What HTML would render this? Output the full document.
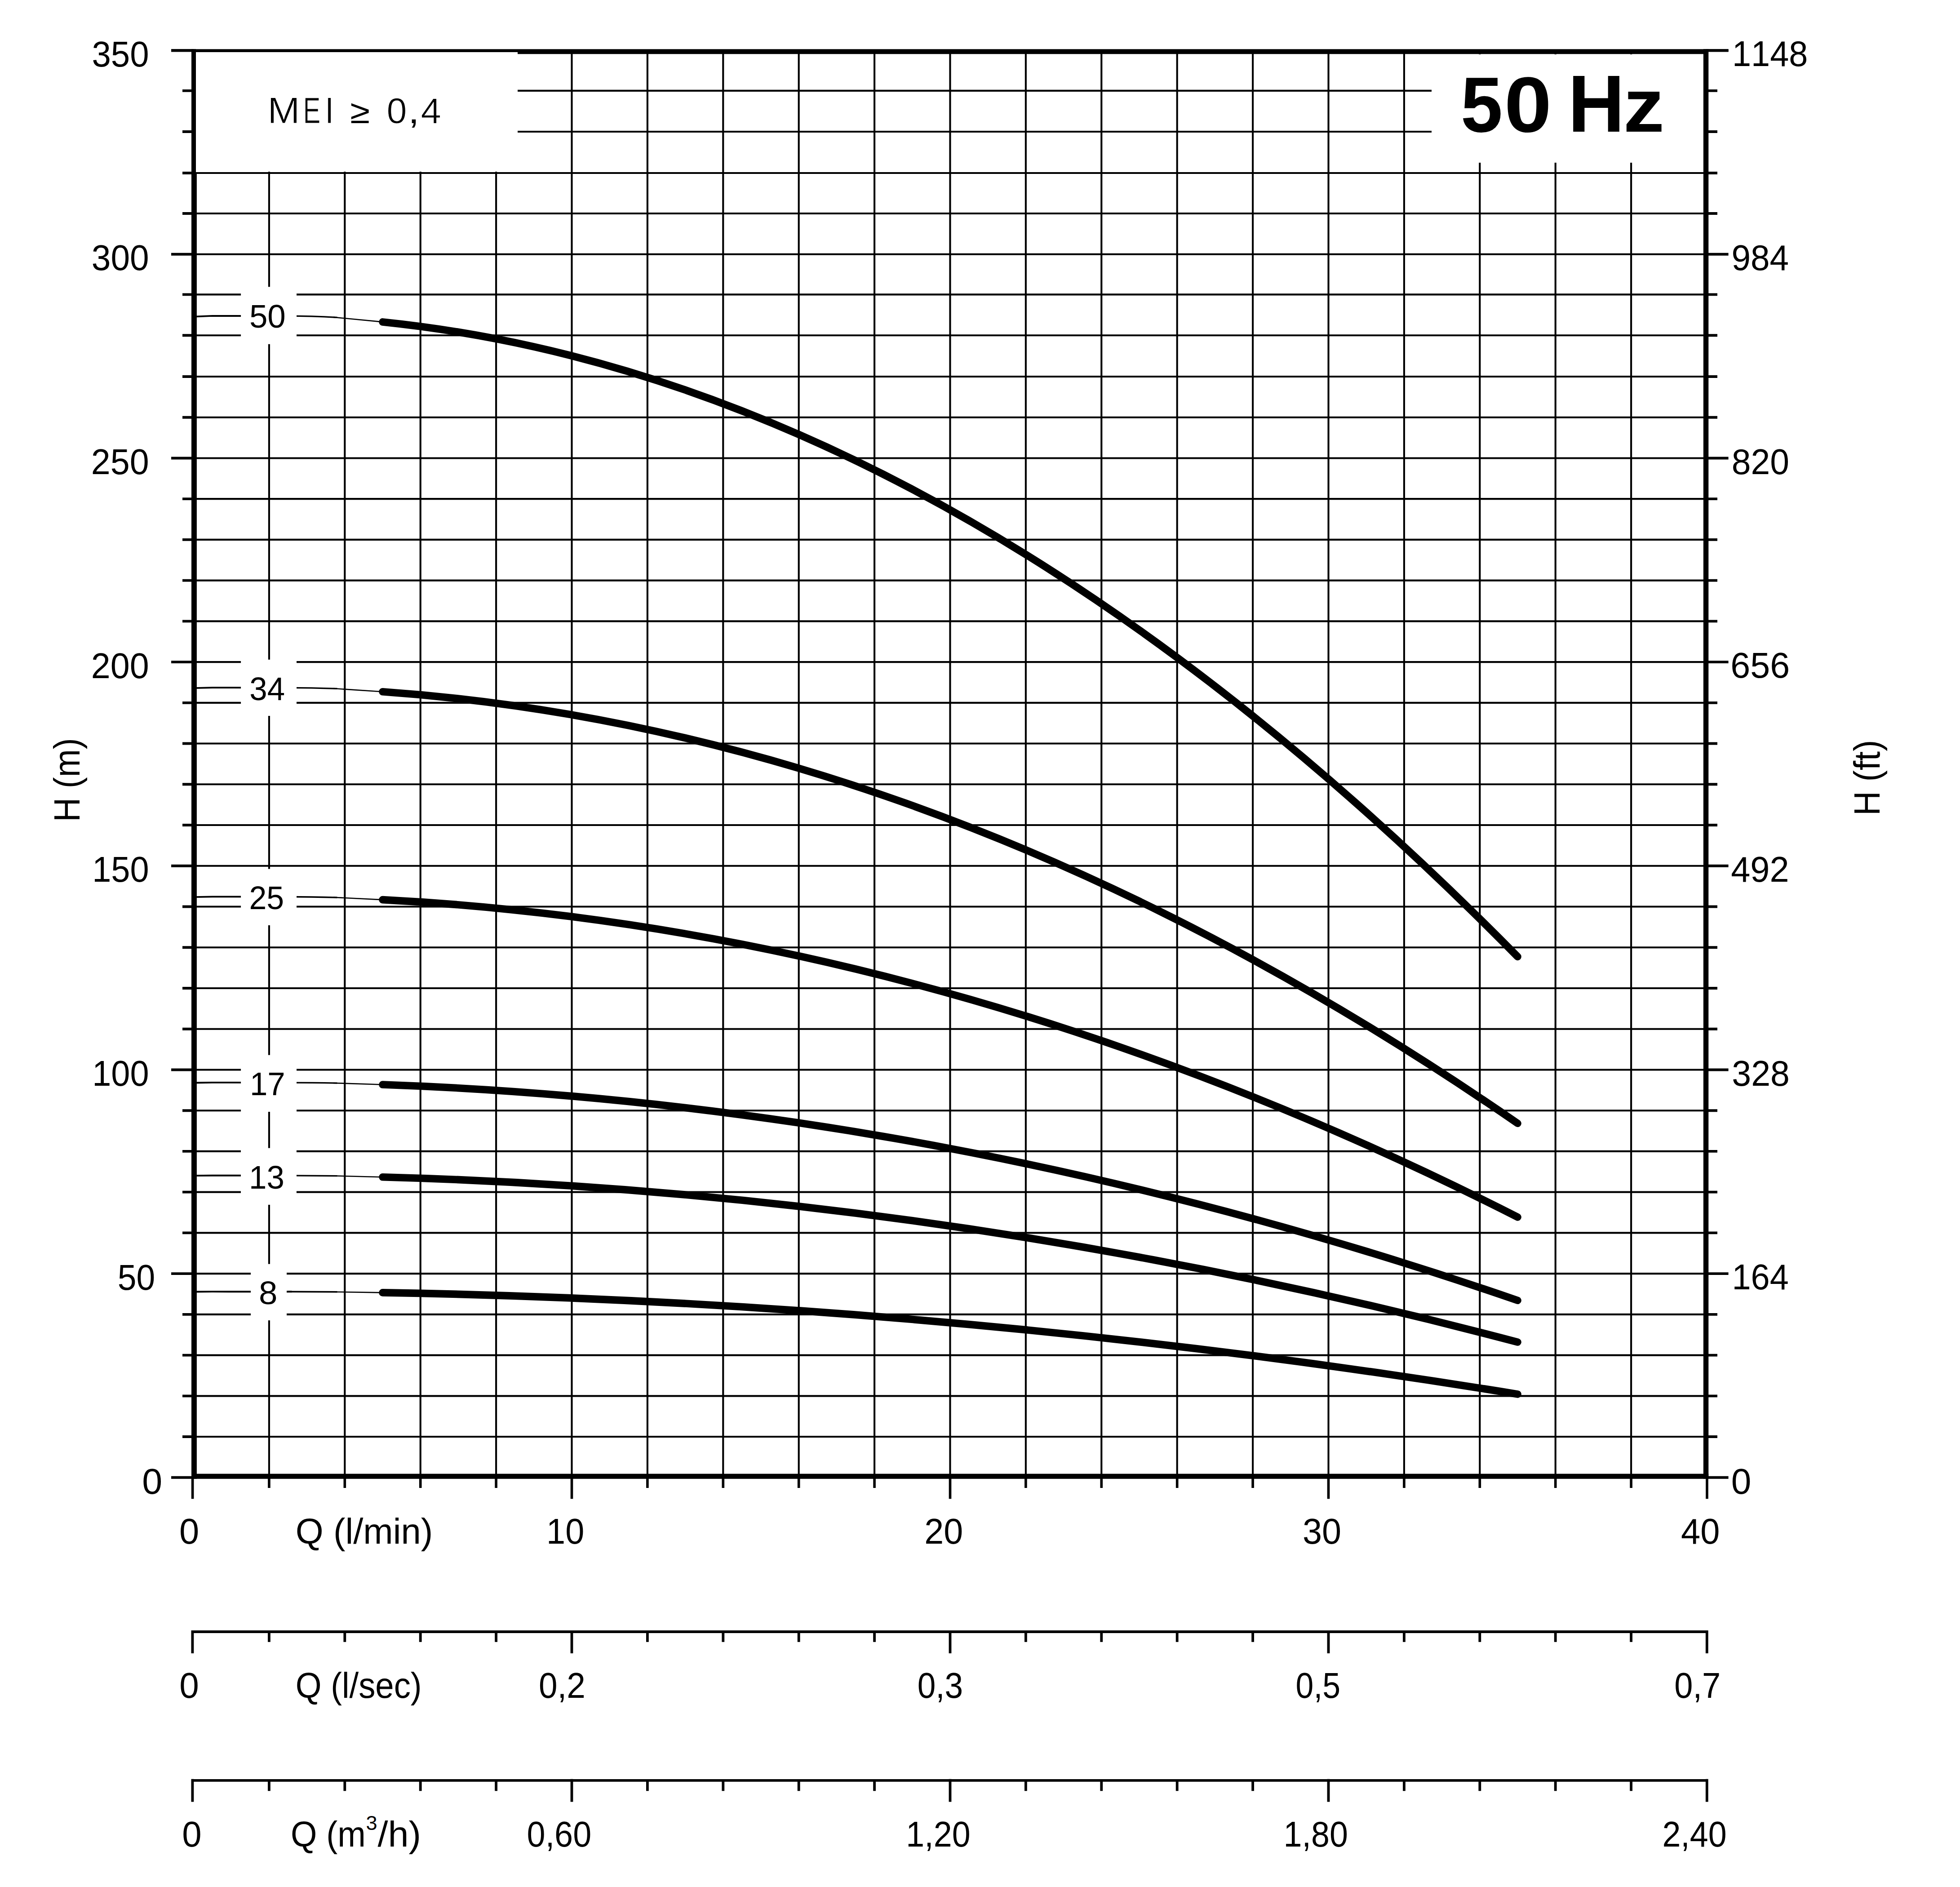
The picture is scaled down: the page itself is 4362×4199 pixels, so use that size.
<!DOCTYPE html>
<html lang="en"><head><meta charset="utf-8"><title>Pump performance curves 50 Hz</title>
<style>html,body{margin:0;padding:0;background:#fff}svg{display:block}text{font-family:"Liberation Sans",sans-serif;fill:#000;font-kerning:none}</style></head><body>
<svg width="4362" height="4199" viewBox="0 0 4362 4199">
<rect width="4362" height="4199" fill="#fff"/>
<path d="M431 3287.8H3796.6M431 3197.07H3796.6M431 3106.33H3796.6M431 3015.6H3796.6M431 2924.86H3796.6M431 2834.12H3796.6M431 2743.39H3796.6M431 2652.66H3796.6M431 2561.92H3796.6M431 2471.19H3796.6M431 2380.45H3796.6M431 2289.72H3796.6M431 2198.98H3796.6M431 2108.25H3796.6M431 2017.51H3796.6M431 1926.78H3796.6M431 1836.04H3796.6M431 1745.31H3796.6M431 1654.57H3796.6M431 1563.84H3796.6M431 1473.1H3796.6M431 1382.37H3796.6M431 1291.63H3796.6M431 1200.9H3796.6M431 1110.16H3796.6M431 1019.43H3796.6M431 928.69H3796.6M431 837.96H3796.6M431 746.2H3796.6M431 655.4H3796.6M431 565.75H3796.6M431 475.02H3796.6M431 385H3796.6M431 293H3796.6M431 201.9H3796.6M431 112.08H3796.6M430.5 112.08V3287.8M598.9 112.08V3287.8M767.3 112.08V3287.8M935.7 112.08V3287.8M1104.1 112.08V3287.8M1272.5 112.08V3287.8M1440.9 112.08V3287.8M1609.3 112.08V3287.8M1777.7 112.08V3287.8M1946.1 112.08V3287.8M2114.5 112.08V3287.8M2282.9 112.08V3287.8M2451.3 112.08V3287.8M2619.7 112.08V3287.8M2788.1 112.08V3287.8M2956.5 112.08V3287.8M3124.9 112.08V3287.8M3293.3 112.08V3287.8M3461.7 112.08V3287.8M3630.1 112.08V3287.8M3798.5 112.08V3287.8" stroke="#000" stroke-width="4.1" fill="none"/>
<path d="M431 115.0H3796.6" stroke="#000" stroke-width="10.4" fill="none"/>
<rect x="436" y="116" width="716" height="266" fill="#fff"/>
<rect x="3186" y="121" width="605" height="241" fill="#fff"/>
<path d="M431 704.57L472.6 702.94L649.42 703.21" stroke="#000" stroke-width="3.8" fill="none"/>
<path d="M641 703.21C683.1 703.21 716.78 704.57 750.46 706.39" stroke="#000" stroke-width="3.3" fill="none"/>
<path d="M742.04 705.84L851.5 716.37" stroke="#000" stroke-width="2.6" fill="none"/>
<path d="M431 1531.21L472.6 1530.1L649.42 1530.28" stroke="#000" stroke-width="3.8" fill="none"/>
<path d="M641 1530.28C683.1 1530.28 716.78 1531.21 750.46 1532.44" stroke="#000" stroke-width="3.3" fill="none"/>
<path d="M742.04 1532.07L851.5 1539.23" stroke="#000" stroke-width="2.6" fill="none"/>
<path d="M431 1996.19L472.6 1995.37L649.42 1995.51" stroke="#000" stroke-width="3.8" fill="none"/>
<path d="M641 1995.51C683.1 1995.51 716.78 1996.19 750.46 1997.09" stroke="#000" stroke-width="3.3" fill="none"/>
<path d="M742.04 1996.82L851.5 2002.09" stroke="#000" stroke-width="2.6" fill="none"/>
<path d="M431 2409.5L472.6 2408.95L649.42 2409.04" stroke="#000" stroke-width="3.8" fill="none"/>
<path d="M641 2409.04C683.1 2409.04 716.78 2409.5 750.46 2410.12" stroke="#000" stroke-width="3.3" fill="none"/>
<path d="M742.04 2409.94L851.5 2413.51" stroke="#000" stroke-width="2.6" fill="none"/>
<path d="M431 2616.16L472.6 2615.74L649.42 2615.81" stroke="#000" stroke-width="3.8" fill="none"/>
<path d="M641 2615.81C683.1 2615.81 716.78 2616.16 750.46 2616.63" stroke="#000" stroke-width="3.3" fill="none"/>
<path d="M742.04 2616.49L851.5 2619.23" stroke="#000" stroke-width="2.6" fill="none"/>
<path d="M431 2874.48L472.6 2874.22L649.42 2874.27" stroke="#000" stroke-width="3.8" fill="none"/>
<path d="M641 2874.27C683.1 2874.27 716.78 2874.48 750.46 2874.77" stroke="#000" stroke-width="3.3" fill="none"/>
<path d="M742.04 2874.69L851.5 2876.37" stroke="#000" stroke-width="2.6" fill="none"/>
<rect x="536.1" y="638.3" width="123.9" height="127.5" fill="#fff"/>
<rect x="536.1" y="1467.8" width="123.9" height="125.2" fill="#fff"/>
<rect x="536.1" y="1933.6" width="123.9" height="125.3" fill="#fff"/>
<rect x="536.1" y="2347.7" width="123.9" height="126.3" fill="#fff"/>
<rect x="536" y="2554.7" width="123.9" height="126.2" fill="#fff"/>
<rect x="558.1" y="2812.7" width="79.9" height="125.4" fill="#fff"/>
<rect x="426" y="109.28" width="10" height="274.72" fill="#000"/>
<rect x="426" y="383" width="11.9" height="2907.8" fill="#000"/>
<path d="M3796.6 109.28V3290.8" stroke="#000" stroke-width="11.4" fill="none"/>
<path d="M426 3285.2H3802.3" stroke="#000" stroke-width="11.2" fill="none"/>
<path d="M381 112.48H3846.6" stroke="#000" stroke-width="6.2" fill="none"/>
<path d="M381 3287.8H431M3796.6 3287.8H3846.6M406 3197.07H431M3796.6 3197.07H3822M406 3106.33H431M3796.6 3106.33H3822M406 3015.6H431M3796.6 3015.6H3822M406 2924.86H431M3796.6 2924.86H3822M381 2834.12H431M3796.6 2834.12H3846.6M406 2743.39H431M3796.6 2743.39H3822M406 2652.66H431M3796.6 2652.66H3822M406 2561.92H431M3796.6 2561.92H3822M406 2471.19H431M3796.6 2471.19H3822M381 2380.45H431M3796.6 2380.45H3846.6M406 2289.72H431M3796.6 2289.72H3822M406 2198.98H431M3796.6 2198.98H3822M406 2108.25H431M3796.6 2108.25H3822M406 2017.51H431M3796.6 2017.51H3822M381 1926.78H431M3796.6 1926.78H3846.6M406 1836.04H431M3796.6 1836.04H3822M406 1745.31H431M3796.6 1745.31H3822M406 1654.57H431M3796.6 1654.57H3822M406 1563.84H431M3796.6 1563.84H3822M381 1473.1H431M3796.6 1473.1H3846.6M406 1382.37H431M3796.6 1382.37H3822M406 1291.63H431M3796.6 1291.63H3822M406 1200.9H431M3796.6 1200.9H3822M406 1110.16H431M3796.6 1110.16H3822M381 1019.43H431M3796.6 1019.43H3846.6M406 928.69H431M3796.6 928.69H3822M406 837.96H431M3796.6 837.96H3822M406 746.2H431M3796.6 746.2H3822M406 655.4H431M3796.6 655.4H3822M381 565.75H431M3796.6 565.75H3846.6M406 475.02H431M3796.6 475.02H3822M406 385H431M3796.6 385H3822M406 293H431M3796.6 293H3822M406 201.9H431M3796.6 201.9H3822M381 112.08H431M3796.6 112.08H3846.6" stroke="#000" stroke-width="5.9" fill="none"/>
<path d="M428.6 3285V3335.3M598.9 3285V3311M767.3 3285V3311M935.7 3285V3311M1104.1 3285V3311M1272.5 3285V3335.3M1440.9 3285V3311M1609.3 3285V3311M1777.7 3285V3311M1946.1 3285V3311M2114.5 3285V3335.3M2282.9 3285V3311M2451.3 3285V3311M2619.7 3285V3311M2788.1 3285V3311M2956.5 3285V3335.3M3124.9 3285V3311M3293.3 3285V3311M3461.7 3285V3311M3630.1 3285V3311M3799 3285V3335.3" stroke="#000" stroke-width="5.6" fill="none"/>
<path d="M425.6 3631H3801.6M428.4 3628V3679M598.9 3631V3653.8M767.3 3631V3653.8M935.7 3631V3653.8M1104.1 3631V3653.8M1272.5 3628V3679M1440.9 3631V3653.8M1609.3 3631V3653.8M1777.7 3631V3653.8M1946.1 3631V3653.8M2114.5 3628V3679M2282.9 3631V3653.8M2451.3 3631V3653.8M2619.7 3631V3653.8M2788.1 3631V3653.8M2956.5 3628V3679M3124.9 3631V3653.8M3293.3 3631V3653.8M3461.7 3631V3653.8M3630.1 3631V3653.8M3798.8 3628V3679" stroke="#000" stroke-width="5.8" fill="none"/>
<path d="M425.6 3961.8H3801.6M428.4 3958.8V4009.4M598.9 3961.8V3985.2M767.3 3961.8V3985.2M935.7 3961.8V3985.2M1104.1 3961.8V3985.2M1272.5 3958.8V4009.4M1440.9 3961.8V3985.2M1609.3 3961.8V3985.2M1777.7 3961.8V3985.2M1946.1 3961.8V3985.2M2114.5 3958.8V4009.4M2282.9 3961.8V3985.2M2451.3 3961.8V3985.2M2619.7 3961.8V3985.2M2788.1 3961.8V3985.2M2956.5 3958.8V4009.4M3124.9 3961.8V3985.2M3293.3 3961.8V3985.2M3461.7 3961.8V3985.2M3630.1 3961.8V3985.2M3798.8 3958.8V4009.4" stroke="#000" stroke-width="5.8" fill="none"/>
<path d="M851.5 716.39Q2114.5 846.51 3377.5 2128.86" stroke="#000" stroke-width="16.6" stroke-linecap="round" fill="none"/>
<path d="M851.5 1539.24Q2114.5 1627.72 3377.5 2499.72" stroke="#000" stroke-width="16.6" stroke-linecap="round" fill="none"/>
<path d="M851.5 2002.1Q2114.5 2067.15 3377.5 2708.33" stroke="#000" stroke-width="16.6" stroke-linecap="round" fill="none"/>
<path d="M851.5 2413.52Q2114.5 2457.76 3377.5 2893.76" stroke="#000" stroke-width="16.6" stroke-linecap="round" fill="none"/>
<path d="M851.5 2619.23Q2114.5 2653.06 3377.5 2986.48" stroke="#000" stroke-width="16.6" stroke-linecap="round" fill="none"/>
<path d="M851.5 2876.37Q2114.5 2897.19 3377.5 3102.37" stroke="#000" stroke-width="16.6" stroke-linecap="round" fill="none"/>
<text transform="translate(204.5 147.58) scale(0.9617 1)" font-size="79.2">350</text>
<text transform="translate(203.78 601.25) scale(0.9672 1)" font-size="79.2">300</text>
<text transform="translate(202.82 1054.93) scale(0.9747 1)" font-size="79.2">250</text>
<text transform="translate(202.82 1508.6) scale(0.9747 1)" font-size="79.2">200</text>
<text transform="translate(205.27 1962.28) scale(0.9557 1)" font-size="79.2">150</text>
<text transform="translate(205.27 2415.95) scale(0.9557 1)" font-size="79.2">100</text>
<text transform="translate(261.7 2869.62) scale(0.9471 1)" font-size="79.2">50</text>
<text transform="translate(316.25 3324.3) scale(1.0196 1)" font-size="79.2">0</text>
<text transform="translate(3855.01 147.28) scale(0.9557 1)" font-size="79.2">1148</text>
<text transform="translate(3853.41 600.95) scale(0.9666 1)" font-size="79.2">984</text>
<text transform="translate(3853.66 1054.63) scale(0.9705 1)" font-size="79.2">820</text>
<text transform="translate(3851.29 1508.3) scale(0.9973 1)" font-size="79.2">656</text>
<text transform="translate(3852.22 1961.98) scale(0.9791 1)" font-size="79.2">492</text>
<text transform="translate(3854.26 2415.65) scale(0.9739 1)" font-size="79.2">328</text>
<text transform="translate(3854.53 2869.32) scale(0.9557 1)" font-size="79.2">164</text>
<text transform="translate(3852.86 3324.3) scale(1.0143 1)" font-size="79.2">0</text>
<text transform="translate(398.99 3435.1) scale(1.0037 1)" font-size="79.2">0</text>
<text transform="translate(657.83 3435.1) scale(1.0061 1)" font-size="79.2">Q (l/min)</text>
<text transform="translate(1216.06 3435.1) scale(0.9557 1)" font-size="79.2">10</text>
<text transform="translate(2057.31 3435.1) scale(0.9763 1)" font-size="79.2">20</text>
<text transform="translate(2899.05 3435.1) scale(0.9770 1)" font-size="79.2">30</text>
<text transform="translate(3741.12 3435.1) scale(0.9810 1)" font-size="79.2">40</text>
<text transform="translate(399.14 3778.2) scale(0.9879 1)" font-size="79.2">0</text>
<text transform="translate(657.78 3778.2) scale(0.9386 1)" font-size="79.2">Q (l/sec)</text>
<text transform="translate(1198.98 3778.2) scale(0.9445 1)" font-size="79.2">0,2</text>
<text transform="translate(2041.65 3778.2) scale(0.9225 1)" font-size="79.2">0,3</text>
<text transform="translate(2883.6 3778.2) scale(0.9037 1)" font-size="79.2">0,5</text>
<text transform="translate(3726.21 3778.2) scale(0.9357 1)" font-size="79.2">0,7</text>
<text transform="translate(405.35 4108.8) scale(0.9852 1)" font-size="79.2">0</text>
<text transform="translate(1172.62 4108.8) scale(0.9313 1)" font-size="79.2">0,60</text>
<text transform="translate(2016.29 4108.8) scale(0.9302 1)" font-size="79.2">1,20</text>
<text transform="translate(2856.49 4108.8) scale(0.9302 1)" font-size="79.2">1,80</text>
<text transform="translate(3699.39 4108.8) scale(0.9302 1)" font-size="79.2">2,40</text>
<text transform="translate(554.89 729.1) scale(1.0053 1)" font-size="72.4">50</text>
<text transform="translate(555.3 1558) scale(0.9782 1)" font-size="72.4">34</text>
<text transform="translate(554.49 2023) scale(0.9641 1)" font-size="72.4">25</text>
<text transform="translate(555.99 2436.9) scale(0.9782 1)" font-size="72.4">17</text>
<text transform="translate(554.04 2644.9) scale(0.9782 1)" font-size="72.4">13</text>
<text transform="translate(576.06 2902.1) scale(1.0302 1)" font-size="72.4">8</text>
<text><tspan x="595.28" y="274.4" font-size="81.45" textLength="72.35" lengthAdjust="spacingAndGlyphs" stroke="#fff" stroke-width="1">M</tspan><tspan x="674.62" y="274.4" font-size="81.45" textLength="38.89" lengthAdjust="spacingAndGlyphs" stroke="#fff" stroke-width="1">E</tspan><tspan x="722.97" y="274.4" font-size="81.45" textLength="20.26" lengthAdjust="spacingAndGlyphs" stroke="#fff" stroke-width="1">I</tspan><tspan> </tspan><tspan x="779.37" y="273.9" font-size="73.5" textLength="43.83" lengthAdjust="spacingAndGlyphs">≥</tspan><tspan> </tspan><tspan x="860.44" y="274.4" font-size="80.05" textLength="45.02" lengthAdjust="spacingAndGlyphs" stroke="#fff" stroke-width="1">0</tspan><tspan x="908.39" y="273.9" font-size="78.6" textLength="25.11" lengthAdjust="spacingAndGlyphs">,</tspan><tspan x="936.43" y="274.4" font-size="80.05" textLength="45.36" lengthAdjust="spacingAndGlyphs" stroke="#fff" stroke-width="1">4</tspan></text>
<text font-weight="bold"><tspan x="3250.63" y="292.6" font-size="173.8" textLength="93.44" lengthAdjust="spacingAndGlyphs">5</tspan><tspan x="3347.8" y="292.6" font-size="173.8" textLength="105.48" lengthAdjust="spacingAndGlyphs">0</tspan><tspan> </tspan><tspan x="3489.51" y="292.6" font-size="179.4" textLength="126.16" lengthAdjust="spacingAndGlyphs">H</tspan><tspan x="3612.45" y="292.6" font-size="169" textLength="91.78" lengthAdjust="spacingAndGlyphs">z</tspan></text>
<text><tspan x="646.94" y="4108.8" font-size="79.2" textLength="166.91" lengthAdjust="spacingAndGlyphs">Q (m</tspan><tspan x="814.48" y="4071.5" font-size="44.8" textLength="25.1" lengthAdjust="spacingAndGlyphs">3</tspan><tspan x="840.6" y="4108.8" font-size="79.2" textLength="96.53" lengthAdjust="spacingAndGlyphs">/h)</tspan></text>
<text transform="translate(176.9 1828.82) rotate(-90) scale(0.9188 1)" font-size="81.2">H (m)</text>
<text transform="translate(4183.1 1815.12) rotate(-90) scale(0.9342 1)" font-size="81.2">H (ft)</text>
</svg></body></html>
